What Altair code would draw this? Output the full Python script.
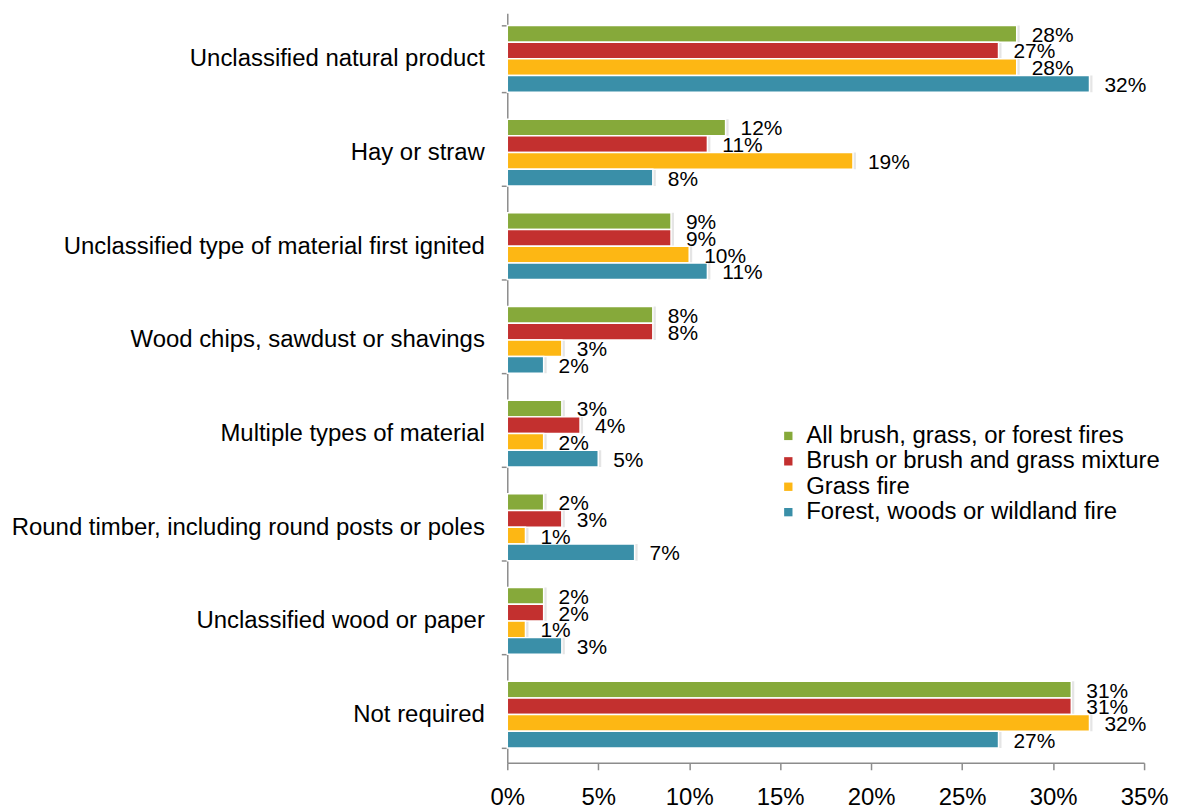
import altair as alt
import pandas as pd

categories = [
    "Unclassified natural product",
    "Hay or straw",
    "Unclassified type of material first ignited",
    "Wood chips, sawdust or shavings",
    "Multiple types of material",
    "Round timber, including round posts or poles",
    "Unclassified wood or paper",
    "Not required",
]
series = [
    "All brush, grass, or forest fires",
    "Brush or brush and grass mixture",
    "Grass fire",
    "Forest, woods or wildland fire",
]
all_fires = [28, 12, 9, 8, 3, 2, 2, 31]
brush_mix = [27, 11, 9, 8, 4, 3, 2, 31]
grass_fire = [28, 19, 10, 3, 2, 1, 1, 32]
forest_fire = [32, 8, 11, 2, 5, 7, 3, 27]
colors = ["#86A93A", "#C3302F", "#FDB714", "#3A8FA8"]
x_ticks = [0, 5, 10, 15, 20, 25, 30, 35]

rows = []
for s, vals in zip(series, [all_fires, brush_mix, grass_fire, forest_fire]):
    for c, v in zip(categories, vals):
        rows.append({"category": c, "series": s, "value": v, "label": f"{v}%"})
df = pd.DataFrame(rows)

FONT = "Liberation Sans"

y_enc = alt.Y(
    "category:N",
    sort=categories,
    scale=alt.Scale(paddingInner=0.287, paddingOuter=0.1435, align=0.45),
    axis=alt.Axis(
        title=None, tickBand="extent", labelFontSize=24, labelFont=FONT,
        labelColor="black", domainColor="#8c8c8c", tickColor="#8c8c8c",
        tickSize=6, labelPadding=17, labelLimit=700, domainWidth=1.5, tickWidth=1.5,
    ),
)
x_enc = alt.X(
    "value:Q",
    scale=alt.Scale(domain=[0, 35], nice=False),
    axis=alt.Axis(
        title=None, values=x_ticks, labelExpr="datum.value + '%'", grid=False,
        labelFontSize=24, labelFont=FONT, labelColor="black",
        domainColor="#8c8c8c", tickColor="#8c8c8c", tickSize=7, labelPadding=16,
        domainWidth=1.5, tickWidth=1.5, labelFlush=False,
    ),
)
yoff = alt.YOffset("series:N", sort=series, scale=alt.Scale(domain=series, paddingInner=0, paddingOuter=0))

base = alt.Chart(df)

shadow = base.mark_bar(color="#000000", opacity=0.10, xOffset=3, yOffset=3).encode(
    y=y_enc, x=x_enc, yOffset=yoff
)

bars = base.mark_bar(stroke="white", strokeWidth=1.5).encode(
    y=y_enc,
    x=x_enc,
    yOffset=yoff,
    color=alt.Color(
        "series:N",
        sort=series,
        scale=alt.Scale(domain=series, range=colors),
        legend=alt.Legend(
            title=None, orient="none", legendX=270, legendY=412,
            symbolType="square", symbolSize=70, symbolStrokeWidth=0,
            labelFontSize=24, labelFont=FONT, labelColor="black",
            rowPadding=1.5, labelOffset=6, labelLimit=600,
        ),
    ),
)

labels = base.mark_text(
    align="left", baseline="middle", dx=15, dy=2, fontSize=21, font=FONT, color="black"
).encode(y=y_enc, x=x_enc, yOffset=yoff, text="label:N")

chart = (
    alt.layer(shadow, bars, labels)
    .properties(
        width=639, height=752,
        autosize=alt.AutoSizeParams(type="none"),
        padding={"left": 501, "top": 4, "right": 25, "bottom": 50},
    )
    .configure_view(stroke=None)
)

chart.save("out.html", embed_options={"renderer": "svg", "actions": False})
